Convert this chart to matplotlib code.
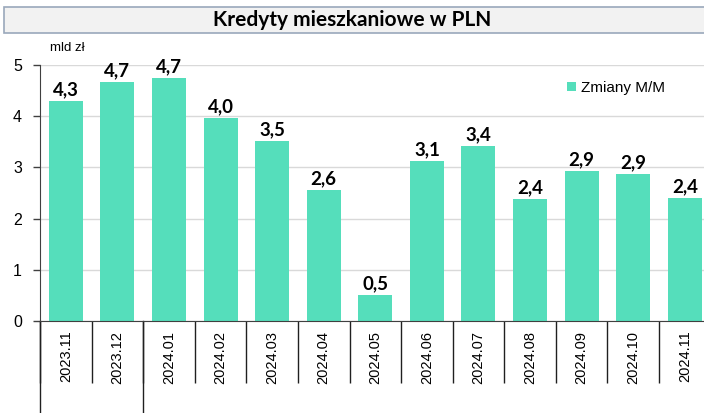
import matplotlib
matplotlib.use("Agg")
import matplotlib.pyplot as plt
from matplotlib.patches import Rectangle, Patch

categories = ["2023.11", "2023.12", "2024.01", "2024.02", "2024.03", "2024.04", "2024.05",
              "2024.06", "2024.07", "2024.08", "2024.09", "2024.10", "2024.11"]
values = [4.30, 4.67, 4.74, 3.97, 3.52, 2.56, 0.51, 3.13, 3.42, 2.39, 2.93, 2.87, 2.41]
yticks = [0, 1, 2, 3, 4, 5]
title = "Kredyty mieszkaniowe w PLN"
unit = "mld zł"
series_name = "Zmiany M/M"
bar_color = "#55DEBB"

plt.rcParams['font.family'] = ['Liberation Sans', 'DejaVu Sans']

W, H = 704, 413
fig = plt.figure(figsize=(W / 100, H / 100), dpi=100)

# Title box
fig.patches.append(Rectangle((4 / W, (H - 33) / H), 720 / W, 26 / H, transform=fig.transFigure,
                             facecolor="#f2f2f2", edgecolor="#9aa8bb", linewidth=1.2, zorder=0))
fig.text(352 / W, (H - 20) / H, title, ha="center", va="center", fontsize=15,
         fontweight="bold", family=["Lato", "DejaVu Sans"])

left, right = 40 / W, 710.6 / W
bottom, top = (H - 321) / H, (H - 65) / H
ax = fig.add_axes([left, bottom, right - left, top - bottom])

x = list(range(len(categories)))
ax.bar(x, values, width=0.66, color=bar_color, zorder=2, label=series_name)
for xi, v in zip(x, values):
    ax.annotate(f"{v:.1f}".replace(".", ","), (xi, v), xytext=(0, 2), textcoords="offset points",
                ha="center", va="bottom", fontsize=13.5, fontweight="bold",
                family=["Lato", "DejaVu Sans"], color="black", zorder=3)

ax.set_xlim(-0.5, len(categories) - 0.5)
ax.set_ylim(0, 5)
ax.set_yticks(yticks)
ax.set_yticklabels([str(t) for t in yticks], fontsize=11.5)
ax.yaxis.grid(True, color="#d9d9d9", linewidth=1, zorder=0)
ax.set_axisbelow(True)

for s in ["top", "right"]:
    ax.spines[s].set_visible(False)
ax.spines["left"].set_color("#404040")
ax.spines["bottom"].set_color("#404040")
ax.tick_params(axis="y", length=5, width=1, color="#404040", pad=8)

ax.set_xticks(x)
ax.set_xticklabels(categories, rotation=90, fontsize=10.5)
ax.tick_params(axis="x", which="major", length=0, pad=7)
ax.set_xticks([i - 0.5 for i in range(len(categories) + 1)], minor=True)
ax.tick_params(axis="x", which="minor", length=62 * 0.72, width=1, color="#202020", direction="out")

# year separators
for b in [-0.5, 1.5]:
    ax.axvline(b, ymin=-92 / 256, ymax=0, color="#202020", linewidth=1, clip_on=False)

fig.text(50 / W, (H - 48) / H, unit, fontsize=9.5, va="center", ha="left")

leg = ax.legend(handles=[Patch(facecolor=bar_color, label=series_name)], loc="center left",
                bbox_to_anchor=((567 - 40) / (710.6 - 40), (321 - 88) / 256), frameon=False,
                fontsize=11, handlelength=0.6, handleheight=0.6, handletextpad=0.3,
                borderaxespad=0, borderpad=0)

fig.savefig("out.png", dpi=100)
